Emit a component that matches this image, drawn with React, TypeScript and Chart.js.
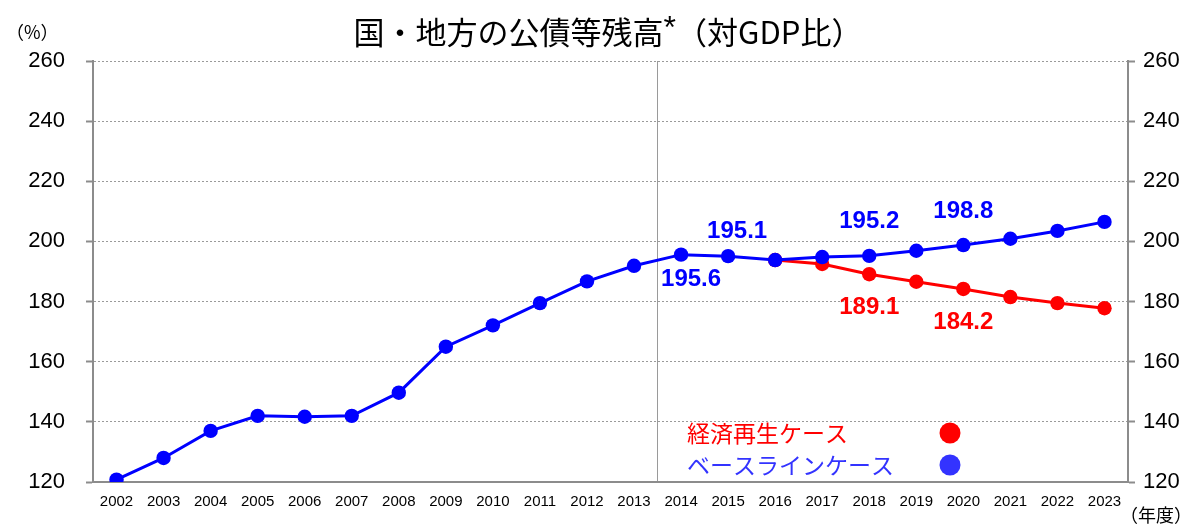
import React, { useEffect, useRef } from "react";
import { Chart, registerables } from "chart.js";

Chart.register(...registerables);

const years = [
  "2002", "2003", "2004", "2005", "2006", "2007", "2008", "2009", "2010", "2011", "2012",
  "2013", "2014", "2015", "2016", "2017", "2018", "2019", "2020", "2021", "2022", "2023",
];

const baselineName = "ベースラインケース";
const revivalName = "経済再生ケース";

const baseline = [
  120.8, 128.0, 137.0, 142.0, 141.7, 142.0, 149.7, 165.0, 172.1, 179.5, 186.7,
  191.9, 195.6, 195.1, 193.8, 194.8, 195.2, 196.9, 198.8, 200.9, 203.5, 206.5,
];

const revival = [
  null, null, null, null, null, null, null, null, null, null, null,
  null, null, null, 193.8, 192.5, 189.1, 186.6, 184.2, 181.5, 179.5, 177.8,
];

const yTicks = [120, 140, 160, 180, 200, 220, 240, 260];

// value labels: dataset index, year, text, placement
const valueLabels = [
  { ds: 0, year: "2014", text: "195.6", place: "below" },
  { ds: 0, year: "2015", text: "195.1", place: "above" },
  { ds: 0, year: "2018", text: "195.2", place: "aboveHigh" },
  { ds: 0, year: "2020", text: "198.8", place: "aboveHigh" },
  { ds: 1, year: "2018", text: "189.1", place: "belowLow" },
  { ds: 1, year: "2020", text: "184.2", place: "belowLow" },
];

const title = "国・地方の公債等残高";
const titleMark = "*";
const titleTail = "（対GDP比）";
const yUnit = "（%）";
const xUnit = "（年度）";

const BLUE = "#0000ff";
const RED = "#ff0000";
const LEGEND_BLUE = "#3333ff";
const AXIS_GRAY = "#8c8c8c";
const GRID_GRAY = "#9a9a9a";
const NUM_FONT = "'Liberation Sans Narrow', 'Liberation Sans', Arial, sans-serif";
const JP_FONT = "'Noto Sans CJK JP', 'Noto Sans', sans-serif";

const placeOffsets: Record<string, [number, number]> = {
  below: [10, 25],
  above: [9, -25],
  aboveHigh: [0, -34],
  belowLow: [0, 33],
};

const decorPlugin = {
  id: "decor",
  afterDraw(chart: any) {
    const ctx = chart.ctx;
    ctx.save();
    // Title
    ctx.fillStyle = "#000";
    ctx.textBaseline = "alphabetic";
    ctx.font = `31px ${JP_FONT}`;
    const w1 = ctx.measureText(title).width;
    ctx.font = `32px 'Liberation Sans', Arial, sans-serif`;
    const w2 = ctx.measureText(titleMark).width;
    ctx.font = `31px ${JP_FONT}`;
    const w3 = ctx.measureText(titleTail).width;
    const total = w1 + w2 + w3;
    let x = 608 - total / 2;
    const base = 44;
    ctx.textAlign = "left";
    ctx.fillText(title, x, base);
    x += w1;
    ctx.font = `32px 'Liberation Sans', Arial, sans-serif`;
    ctx.fillText(titleMark, x, base - 6);
    x += w2;
    ctx.font = `31px ${JP_FONT}`;
    ctx.fillText(titleTail, x, base);

    // unit labels
    ctx.font = `18px ${JP_FONT}`;
    ctx.textBaseline = "middle";
    ctx.textAlign = "left";
    ctx.fillText(yUnit, 6, 32);
    ctx.textAlign = "right";
    ctx.fillText(xUnit, 1192, 515);

    // legend
    const legendItems = [
      { text: revivalName, color: RED, y: 433 },
      { text: baselineName, color: LEGEND_BLUE, y: 465 },
    ];
    ctx.font = `23px ${JP_FONT}`;
    ctx.textAlign = "left";
    ctx.textBaseline = "middle";
    for (const it of legendItems) {
      ctx.fillStyle = it.color;
      ctx.fillText(it.text, 687, it.y);
      ctx.beginPath();
      ctx.arc(950, it.y, 10.5, 0, Math.PI * 2);
      ctx.fill();
    }

    // value labels
    ctx.font = `bold 24px ${NUM_FONT}`;
    ctx.textAlign = "center";
    ctx.textBaseline = "middle";
    for (const lb of valueLabels) {
      const meta = chart.getDatasetMeta(lb.ds);
      const idx = years.indexOf(lb.year);
      const pt = meta.data[idx];
      if (!pt) continue;
      const [dx, dy] = placeOffsets[lb.place];
      ctx.fillStyle = chart.data.datasets[lb.ds].borderColor;
      ctx.fillText(lb.text, pt.x + dx, pt.y + dy);
    }
    ctx.restore();
  },
};

export default function App() {
  const ref = useRef<HTMLCanvasElement | null>(null);
  useEffect(() => {
    if (!ref.current) return;
    const chart = new Chart(ref.current, {
      type: "line",
      data: {
        labels: years,
        datasets: [
          {
            label: baselineName,
            data: baseline,
            borderColor: BLUE,
            backgroundColor: BLUE,
            borderWidth: 3,
            pointRadius: 7.2,
            pointHoverRadius: 7.2,
            pointBorderWidth: 0,
            tension: 0,
            yAxisID: "y",
          },
          {
            label: revivalName,
            data: revival,
            borderColor: RED,
            backgroundColor: RED,
            borderWidth: 3,
            pointRadius: 7.2,
            pointHoverRadius: 7.2,
            pointBorderWidth: 0,
            tension: 0,
            yAxisID: "y",
          },
        ],
      },
      options: {
        responsive: false,
        animation: false,
        events: [],
        layout: { padding: { top: 61, left: 0, right: 0, bottom: 0 } },
        plugins: {
          legend: { display: false },
          title: { display: false },
          tooltip: { enabled: false },
        },
        scales: {
          x: {
            type: "category",
            offset: true,
            afterFit(s: any) {
              s.height = 44;
            },
            grid: {
              offset: true,
              drawTicks: false,
              color: (c: any) => (c.index === 12 ? GRID_GRAY : "rgba(0,0,0,0)"),
              lineWidth: 1,
            },
            border: { display: true, color: AXIS_GRAY, width: 2 },
            ticks: {
              color: "#000",
              padding: 11,
              maxRotation: 0,
              autoSkip: false,
              font: { family: NUM_FONT, size: 15 },
            },
          },
          y: {
            position: "left",
            min: yTicks[0],
            max: yTicks[yTicks.length - 1],
            afterFit(s: any) {
              s.width = 93;
            },
            afterBuildTicks(s: any) {
              s.ticks = yTicks.map((v) => ({ value: v }));
            },
            grid: {
              color: GRID_GRAY,
              lineWidth: 1,
              tickLength: 7,
              tickColor: AXIS_GRAY,
              tickWidth: 2,
              drawTicks: true,
            },
            border: { display: true, color: AXIS_GRAY, width: 2, dash: [2, 2] },
            ticks: {
              color: "#000",
              padding: 21,
              font: { family: NUM_FONT, size: 22 },
            },
          },
          y2: {
            position: "right",
            min: yTicks[0],
            max: yTicks[yTicks.length - 1],
            afterFit(s: any) {
              s.width = 62;
            },
            afterBuildTicks(s: any) {
              s.ticks = yTicks.map((v) => ({ value: v }));
            },
            grid: {
              drawOnChartArea: false,
              tickLength: 7,
              tickColor: AXIS_GRAY,
              tickWidth: 2,
              drawTicks: true,
            },
            border: { display: true, color: AXIS_GRAY, width: 2 },
            ticks: {
              color: "#000",
              padding: 8,
              font: { family: NUM_FONT, size: 22 },
            },
          },
        },
      },
      plugins: [decorPlugin],
    });
    return () => chart.destroy();
  }, []);
  return (
    <div style={{ position: "absolute", left: 0, top: 0, width: 1190, height: 526, background: "#fff" }}>
      <canvas ref={ref} width={1190} height={526} />
    </div>
  );
}
